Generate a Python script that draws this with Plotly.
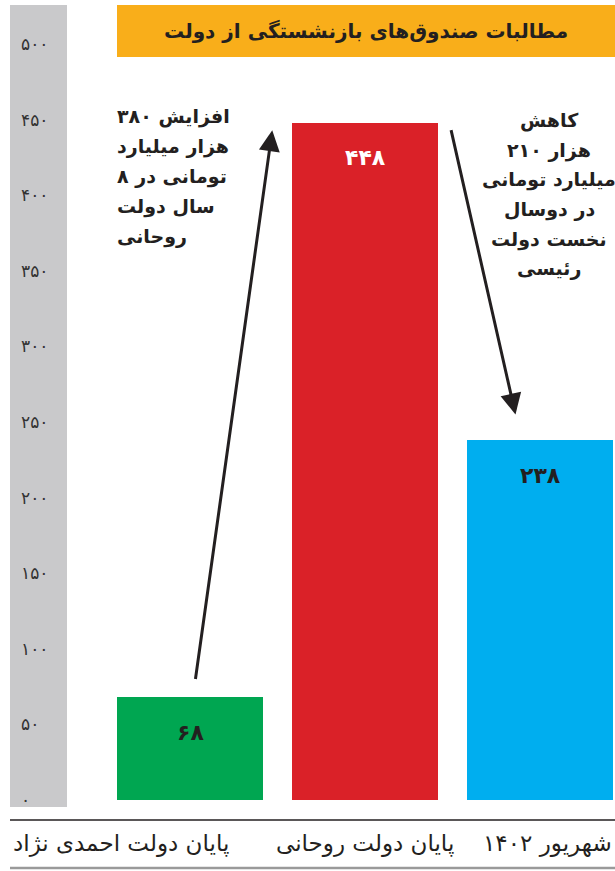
import plotly.graph_objects as go

# ---------------- data ----------------
categories = ["پایان دولت احمدی نژاد", "پایان دولت روحانی", "شهریور ۱۴۰۲"]
values = [68, 448, 238]
tick_values = [0, 50, 100, 150, 200, 250, 300, 350, 400, 450, 500]
tick_labels = ["۰", "۵۰", "۱۰۰", "۱۵۰", "۲۰۰", "۲۵۰", "۳۰۰", "۳۵۰", "۴۰۰", "۴۵۰", "۵۰۰"]
title_text = "مطالبات صندوق‌های بازنشستگی از دولت"
note_increase = ["افزایش ۳۸۰", "هزار میلیارد", "تومانی در ۸", "سال دولت", "روحانی"]
note_decrease = ["کاهش", "۲۱۰ هزار", "میلیارد تومانی", "در دوسال", "نخست دولت", "رئیسی"]

# ---------------- style ----------------
bar_colors = ["#00a651", "#da2128", "#00aeef"]
value_colors = ["#231f20", "#ffffff", "#231f20"]
FONT = "DejaVu Sans"
INK = "#231f20"
W, H = 615, 871


def fa(n):
    return str(n).translate(str.maketrans("0123456789", "۰۱۲۳۴۵۶۷۸۹"))


def px(x):
    return x / W


def py(y):
    return 1 - y / H


# axis geometry: 0 -> 800 px, 500 -> 44 px
k = (800 - 44) / 500
y1 = 800 / k
y0 = y1 - H / k
x_left = -190 / 175
x_right = x_left + W / 175

xs = list(range(len(categories)))

fig = go.Figure()
fig.add_trace(go.Bar(
    x=xs, y=values, width=0.83,
    marker=dict(color=bar_colors, line=dict(width=0)),
    hoverinfo="skip", showlegend=False,
))

shapes = [
    # grey axis strip
    dict(type="rect", xref="paper", yref="paper", x0=px(10), x1=px(67), y0=py(807), y1=py(5),
         fillcolor="#c9c9cb", line=dict(width=0), layer="below"),
    # title banner
    dict(type="rect", xref="paper", yref="paper", x0=px(117), x1=1, y0=py(57), y1=py(5),
         fillcolor="#f9ae1a", line=dict(width=0), layer="below"),
    # baseline rules
    dict(type="line", xref="paper", yref="paper", x0=px(10), x1=1, y0=py(820), y1=py(820),
         line=dict(color=INK, width=1.5)),
    dict(type="line", xref="paper", yref="paper", x0=px(10), x1=1, y0=py(868), y1=py(868),
         line=dict(color="#9a9a9a", width=2.5)),
]

annotations = [
    dict(xref="paper", yref="paper", x=px(366), y=py(31), text=title_text, showarrow=False,
         font=dict(family=FONT, size=20, color=INK, weight="bold"), xanchor="center", yanchor="middle"),
]

# value labels inside bars
for i, v in enumerate(values):
    annotations.append(dict(x=xs[i], y=v, xref="x", yref="y", yshift=-35, text=fa(v), showarrow=False,
                            font=dict(family=FONT, size=22, color=value_colors[i], weight="bold"),
                            xanchor="center", yanchor="middle"))

# category labels
label_shift = [-69, 0, 7]
for i, c in enumerate(categories):
    annotations.append(dict(x=xs[i], y=py(843), xref="x", yref="paper", xshift=label_shift[i], text=c,
                            showarrow=False, font=dict(family=FONT, size=23, color=INK),
                            xanchor="center", yanchor="middle"))

# arrows
annotations.append(dict(x=0.47, y=values[1] - 5, ax=0.03, ay=values[0] + 11, xref="x", yref="y",
                        axref="x", ayref="y", text="", showarrow=True, arrowhead=2, arrowsize=1.4,
                        arrowwidth=3, arrowcolor=INK))
annotations.append(dict(x=1.86, y=values[2] + 17, ax=1.49, ay=values[1] - 4, xref="x", yref="y",
                        axref="x", ayref="y", text="", showarrow=True, arrowhead=2, arrowsize=1.4,
                        arrowwidth=3, arrowcolor=INK))

# notes
for i, t in enumerate(note_increase):
    annotations.append(dict(xref="paper", yref="paper", x=px(115), y=py(117 + 30 * i), text=t,
                            showarrow=False, font=dict(family=FONT, size=19, color=INK, weight="bold"),
                            xanchor="left", yanchor="middle"))
for i, t in enumerate(note_decrease):
    annotations.append(dict(xref="paper", yref="paper", x=px(549), y=py(121 + 29.5 * i), text=t,
                            showarrow=False, font=dict(family=FONT, size=19, color=INK, weight="bold"),
                            xanchor="center", yanchor="middle"))

fig.update_layout(
    width=W, height=H,
    margin=dict(l=0, r=0, t=0, b=0),
    paper_bgcolor="white", plot_bgcolor="white",
    xaxis=dict(range=[x_left, x_right], visible=False, fixedrange=True),
    yaxis=dict(range=[y0, y1], tickvals=tick_values, ticktext=tick_labels,
               ticklabelposition="inside", ticklabelstandoff=18, ticks="",
               showgrid=False, zeroline=False, showline=False,
               tickfont=dict(family=FONT, size=17, color="#333333"), fixedrange=True),
    shapes=shapes, annotations=annotations,
    bargap=0,
)

fig.write_html("out.html", config={"displayModeBar": False},
               post_script="document.body.style.margin='0px';document.body.style.overflow='hidden';")
